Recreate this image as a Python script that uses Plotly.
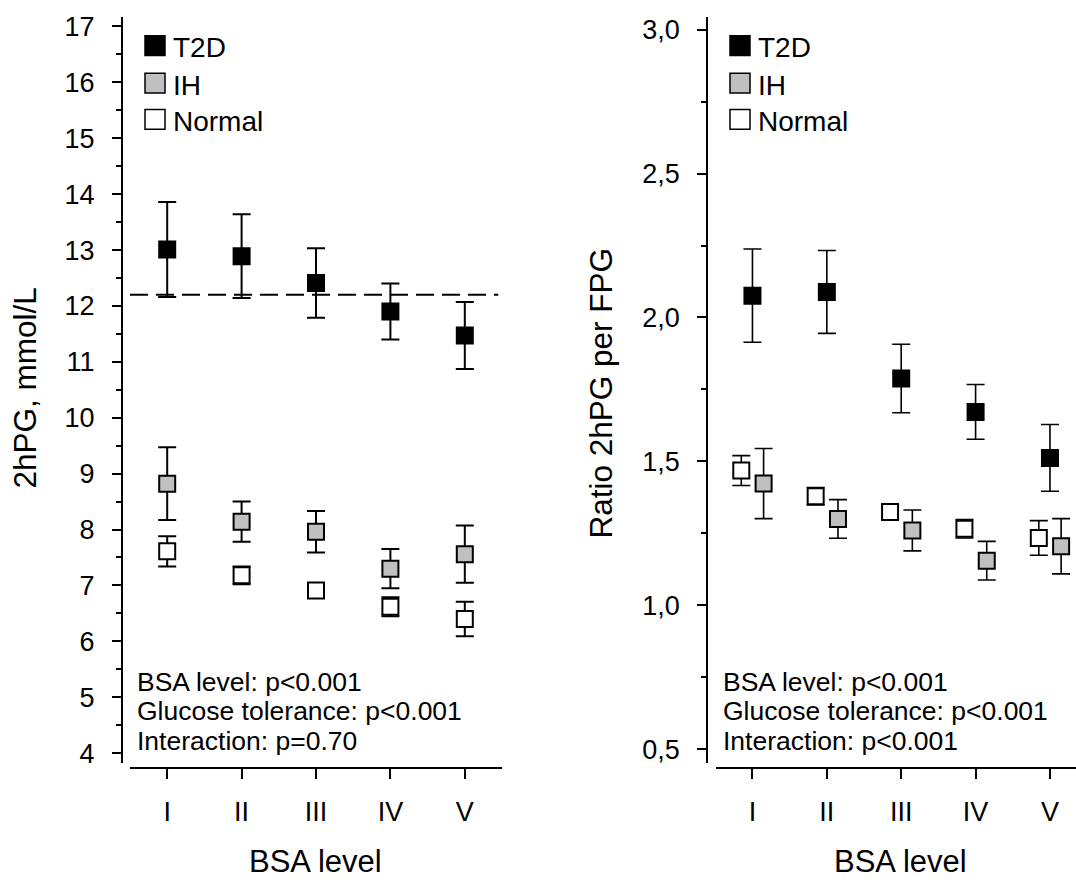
import plotly.graph_objects as go

# ---------------- data ----------------
categories = ["I", "II", "III", "IV", "V"]
groups = ["T2D", "IH", "Normal"]

# Left panel: 2hPG, mmol/L (mean and error)
t2d_2hpg = [13.01, 12.89, 12.41, 11.90, 11.47]
t2d_2hpg_err = [0.85, 0.75, 0.62, 0.50, 0.60]
ih_2hpg = [8.82, 8.14, 7.96, 7.30, 7.56]
ih_2hpg_err = [0.65, 0.36, 0.37, 0.35, 0.51]
normal_2hpg = [7.61, 7.18, 6.91, 6.62, 6.40]
normal_2hpg_err = [0.27, 0.16, 0.10, 0.17, 0.31]
threshold_2hpg = 12.2

# Right panel: ratio 2hPG per FPG
t2d_ratio = [2.076, 2.089, 1.788, 1.672, 1.512]
t2d_ratio_err = [0.162, 0.144, 0.119, 0.095, 0.116]
ih_ratio = [1.423, 1.300, 1.260, 1.155, 1.205]
ih_ratio_err = [0.122, 0.067, 0.071, 0.067, 0.096]
normal_ratio = [1.468, 1.379, 1.324, 1.266, 1.234]
normal_ratio_err = [0.052, 0.030, 0.025, 0.032, 0.060]

stats_left = ["BSA level: p<0.001", "Glucose tolerance: p<0.001", "Interaction: p=0.70"]
stats_right = ["BSA level: p<0.001", "Glucose tolerance: p<0.001", "Interaction: p<0.001"]

# ---------------- styling ----------------
W, H = 1076, 882
FONT = "Arial, Liberation Sans, sans-serif"
fill = {"T2D": "black", "IH": "#c0c0c0", "Normal": "white"}
offset_right = {"T2D": 0.0, "IH": 0.15, "Normal": -0.15}


def px(x):
    return x / W


def py(y):
    return 1 - y / H


idx = list(range(len(categories)))
fig = go.Figure()

left_data = {"Normal": (normal_2hpg, normal_2hpg_err),
             "IH": (ih_2hpg, ih_2hpg_err),
             "T2D": (t2d_2hpg, t2d_2hpg_err)}
right_data = {"Normal": (normal_ratio, normal_ratio_err),
              "IH": (ih_ratio, ih_ratio_err),
              "T2D": (t2d_ratio, t2d_ratio_err)}

for g, (vals, errs) in left_data.items():
    fig.add_trace(go.Scatter(
        x=idx, y=vals, mode="markers", name=g, showlegend=False,
        xaxis="x", yaxis="y",
        marker=dict(symbol="square", size=16, color=fill[g],
                    line=dict(color="black", width=2)),
        error_y=dict(type="data", array=errs, visible=True,
                     color="black", thickness=2, width=9),
    ))

for g, (vals, errs) in right_data.items():
    fig.add_trace(go.Scatter(
        x=[i + offset_right[g] for i in idx], y=vals, mode="markers",
        name=g, showlegend=False, xaxis="x2", yaxis="y2",
        marker=dict(symbol="square", size=16, color=fill[g],
                    line=dict(color="black", width=2)),
        error_y=dict(type="data", array=errs, visible=True,
                     color="black", thickness=1.6, width=9),
    ))

# dashed threshold line (left panel)
fig.add_shape(type="line", xref="x domain", yref="y", x0=0, x1=0.99,
              y0=threshold_2hpg, y1=threshold_2hpg,
              line=dict(color="black", width=2, dash="18px,8px"))

tickfont = dict(family=FONT, size=27, color="black")
xcommon = dict(tickvals=idx, ticktext=categories, showline=True, linecolor="black",
               linewidth=2, ticks="outside", ticklen=10, tickwidth=2, tickcolor="black",
               showgrid=False, zeroline=False, tickfont=tickfont, anchor="free",
               position=py(771.7), ticklabelstandoff=10)
ycommon = dict(showline=True, linecolor="black", linewidth=2, ticks="outside",
               ticklen=9, tickwidth=2, tickcolor="black", showgrid=False,
               zeroline=False, tickfont=tickfont, anchor="free",
               domain=[py(766.7), py(11.7)], ticklabelstandoff=12)

fig.update_layout(
    width=W, height=H, margin=dict(l=0, r=0, t=0, b=0),
    paper_bgcolor="white", plot_bgcolor="white",
    separators=",.",
    font=dict(family=FONT, color="black"),
    xaxis=dict(domain=[px(130), px(502)], range=[-0.5, 4.5], **xcommon),
    xaxis2=dict(domain=[px(716), 1.0], range=[-0.49, 4.35], **xcommon),
    yaxis=dict(range=[3.823, 17.177], dtick=1, tick0=0, position=px(122),
               minor=dict(dtick=0.5, ticks="outside", ticklen=5, tickwidth=2,
                          tickcolor="black", showgrid=False), **ycommon),
    yaxis2=dict(range=[0.4519, 3.0457], dtick=0.5, tick0=0, tickformat=".1f",
                position=px(707.3),
                minor=dict(dtick=0.25, ticks="outside", ticklen=5, tickwidth=2,
                           tickcolor="black", showgrid=False), **ycommon),
)

ann = []
# axis titles
ann.append(dict(text="2hPG, mmol/L", x=px(25), y=py(388), xref="paper", yref="paper",
                xanchor="center", yanchor="middle",
                textangle=-90, showarrow=False, font=dict(size=31.5, family=FONT)))
ann.append(dict(text="Ratio 2hPG per FPG", x=px(601), y=py(393), xref="paper", yref="paper",
                xanchor="center", yanchor="middle",
                textangle=-90, showarrow=False, font=dict(size=31.5, family=FONT)))
for cx in (315.5, 900.5):
    ann.append(dict(text="BSA level", x=px(cx), y=py(866), xref="paper", yref="paper",
                    xanchor="center", yanchor="middle",
                    showarrow=False, font=dict(size=31, family=FONT)))

# stats text
line_y = [685, 714.5, 744]
for x0, lines in ((135, stats_left), (721, stats_right)):
    for yy, t in zip(line_y, lines):
        ann.append(dict(text=t, x=px(x0), y=py(yy), xref="paper", yref="paper",
                        xanchor="left", yanchor="middle", showarrow=False,
                        font=dict(size=26.5, family=FONT)))

# legends (manual)
leg_y = [41, 79, 115.7]
for sq_x, tx in ((145, 171), (730, 756)):
    for g, yy in zip(groups, leg_y):
        fig.add_shape(type="rect", xref="paper", yref="paper",
                      x0=px(sq_x), x1=px(sq_x + 20), y0=py(yy + 10), y1=py(yy - 10),
                      fillcolor=fill[g], line=dict(color="black", width=1.5))
        ann.append(dict(text=g, x=px(tx), y=py(yy + 2), xref="paper", yref="paper",
                        xanchor="left", yanchor="middle", showarrow=False,
                        font=dict(size=28, family=FONT)))

fig.update_layout(annotations=ann)
fig.write_html("out.html", config={"displayModeBar": False},
               post_script="document.body.style.margin='0';document.body.style.padding='0';")
